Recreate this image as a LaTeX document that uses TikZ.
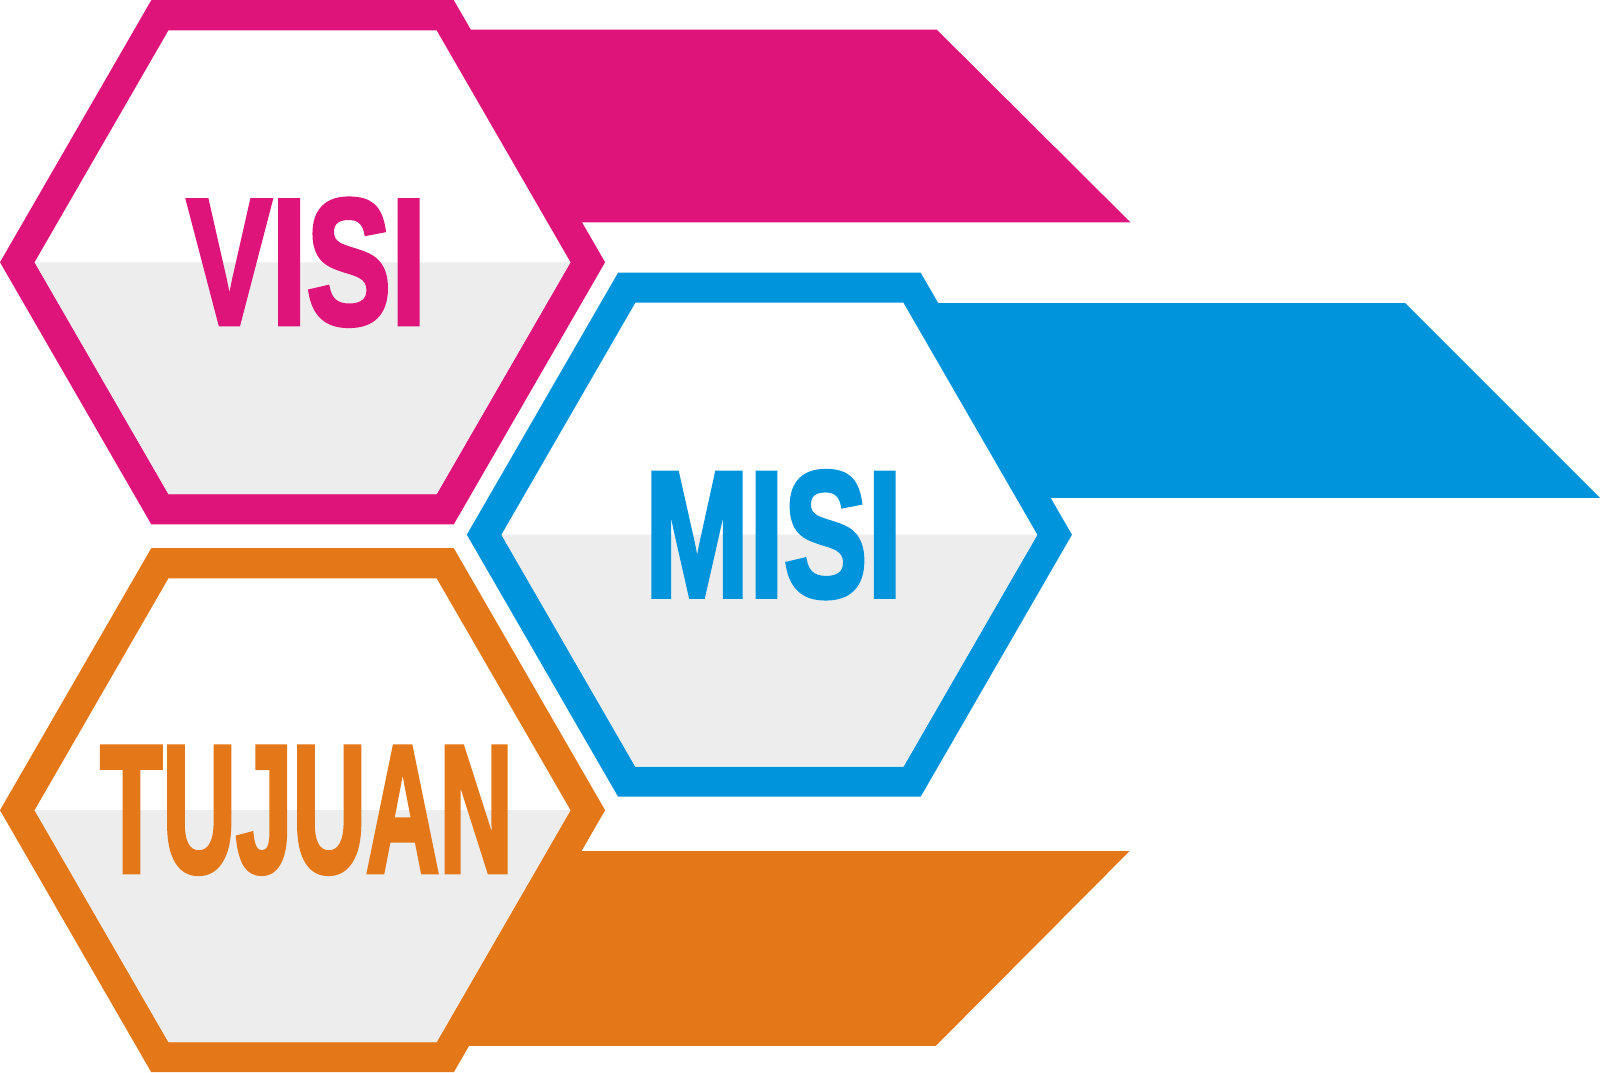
\documentclass[tikz,border=0pt]{standalone}
\usepackage{fontspec}
\setmainfont{Liberation Sans}
\newfontfamily\wordfont{Liberation Sans Bold}[FakeBold=3]
\usepackage{tikz}
\usetikzlibrary{positioning}

\definecolor{visicol}{HTML}{DE147B}
\definecolor{misicol}{HTML}{0094DC}
\definecolor{tujuancol}{HTML}{E47819}
\definecolor{halfgray}{HTML}{EDEDED}

\tikzset{
    word/.style={inner sep=0pt, font=\wordfont, xshift=0.04cm},
}

\begin{document}
\begin{tikzpicture}[x=0.01cm, y=-0.01cm]
        \useasboundingbox (0,0) rectangle (1568,1050.6);

        % bands
        \fill[visicol] (455,29) -- (918,29) -- (1108,218) -- (565,218) -- cycle;
        \fill[misicol] (912,297) -- (1377,297) -- (1568,488) -- (1022,488) -- cycle;
        \fill[tujuancol] (562,834) -- (1107,834) -- (917,1025) -- (452,1025) -- cycle;

        % hexagons
        \coordinate (visi c) at (296.5,257);
        \coordinate (misi c) at (754,524);
        \coordinate (tujuan c) at (296.5,794);

        \begin{scope}[shift={(visi c)}]
            \fill[visicol] (0:296.5) -- (60:296.5) -- (120:296.5) -- (180:296.5) -- (240:296.5) -- (300:296.5) -- cycle;
            \fill[white] (0:262.5) -- (60:262.5) -- (120:262.5) -- (180:262.5) -- (240:262.5) -- (300:262.5) -- cycle;
            \fill[halfgray] (0:262.5) -- (60:262.5) -- (120:262.5) -- (180:262.5) -- cycle;
        \end{scope}
        \begin{scope}[shift={(misi c)}]
            \fill[misicol] (0:296.5) -- (60:296.5) -- (120:296.5) -- (180:296.5) -- (240:296.5) -- (300:296.5) -- cycle;
            \fill[white] (0:262.5) -- (60:262.5) -- (120:262.5) -- (180:262.5) -- (240:262.5) -- (300:262.5) -- cycle;
            \fill[halfgray] (0:262.5) -- (60:262.5) -- (120:262.5) -- (180:262.5) -- cycle;
        \end{scope}
        \begin{scope}[shift={(tujuan c)}]
            \fill[tujuancol] (0:296.5) -- (60:296.5) -- (120:296.5) -- (180:296.5) -- (240:296.5) -- (300:296.5) -- cycle;
            \fill[white] (0:262.5) -- (60:262.5) -- (120:262.5) -- (180:262.5) -- (240:262.5) -- (300:262.5) -- cycle;
            \fill[halfgray] (0:262.5) -- (60:262.5) -- (120:262.5) -- (180:262.5) -- cycle;
        \end{scope}

        % words
        \node[word, visicol] (visi) at (visi c) {\resizebox{2.34cm}{1.22cm}{VISI}};
        \node[word, misicol] (misi) at (misi c) {\resizebox{2.52cm}{1.22cm}{MISI}};
        \node[word, tujuancol] (tujuan) at (tujuan c) {\resizebox{4.04cm}{1.22cm}{TUJUAN}};
    \end{tikzpicture}
\end{document}
